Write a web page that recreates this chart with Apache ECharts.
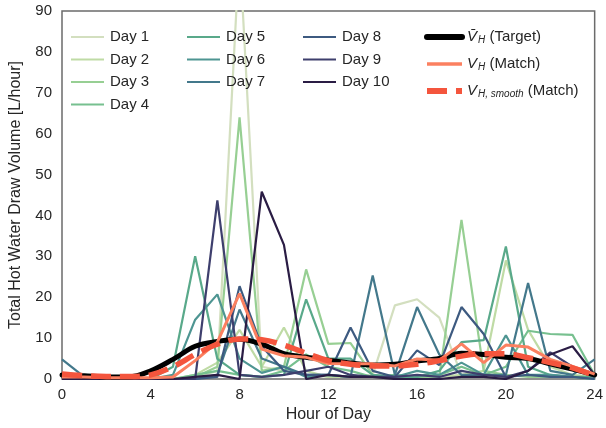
<!DOCTYPE html>
<html><head><meta charset="utf-8">
<script src="https://cdn.jsdelivr.net/npm/echarts@6/dist/echarts.min.js"></script>
<style>html,body{margin:0;padding:0;background:#fff}#c{width:606px;height:428px}</style>
</head><body><div id="c"></div>
<script>
// ---- data ----
const hours = [0,1,2,3,4,5,6,7,8,9,10,11,12,13,14,15,16,17,18,19,20,21,22,23,24];
const xTicks = [0,4,8,12,16,20,24];
const yTicks = [0,10,20,30,40,50,60,70,80,90];
const dayNames = ['Day 1','Day 2','Day 3','Day 4','Day 5','Day 6','Day 7','Day 8','Day 9','Day 10'];
const day1  = [0,0,0,0,0,0,0.5,2,105,3,2,1,0.5,0.5,1,18,19.5,15,1,0.5,0.5,1,0.5,0.5,0];
const day2  = [0.5,0,0,0,0,0,1,4,12,3,12.6,2,0.5,0.5,0.5,0.5,0.5,0.5,1,2,29,12,3,1,0.5];
const day3  = [0,0,0,0,0,0,0.5,3,64,2,3,26.8,8.6,8.8,1,0.5,0.5,0.5,38.9,2,1,0.5,0.5,0.5,0];
const day4  = [0,0,0,0,0,0,1,2,1,0.5,2,6,3,2,0.5,1,0.5,1,3,1,3,11.8,11,10.8,1];
const day5  = [0,0,0,0,0,3,30,4.9,1,0.5,1,19.5,5,5,1,0.5,0.5,2,9,9.5,32.4,3,1,0.5,0.5];
const day6  = [0,0,0,0,0,1,14.5,20.7,5,1.5,3,0.5,1,0.5,0.5,0.5,2,1,4,1,10.7,1,1,0.5,0];
const day7  = [4.8,0.5,0,0,0,0,0,1,17,5,3,1,1,0.5,25.3,1,17.6,6,1,1,1,23.5,2,1,4.8];
const day8  = [0,0,0,0,0,0,0,0.5,22.7,8,2,1,1,12.6,2,0.5,7,3.4,17.6,11,0.5,1,0.5,0.5,0];
const day9  = [0,0,0,0,0,0,0,43.7,1,0.5,1,2,3,1,0.5,0.5,1,0.5,2,1,0.5,2,6.5,3,0.5];
const day10 = [0,0,0,0,0,0,0.5,1,0,45.8,32.8,0,1,0.5,0.5,0,0,0,0.5,0.5,0,2,6,8,1];
const target = [1,0.8,0.5,0.5,2,4.8,8,9.2,9.7,8.5,6.2,5.3,4.6,3.9,3.4,3.6,4.4,5,6.3,6,5.3,5,3.7,2.4,1];
const match  = [0.5,0.5,0.3,0.3,0.3,0.5,4.5,9,20.9,7.3,5.7,5.3,3.8,3.7,3.7,3.2,4.9,4.6,8.6,4,8.3,7.8,4.8,3.1,1.2];
const smooth = [1.2,0.8,0.6,0.6,1,3,6,8.5,9.8,9.6,8.3,6.3,4.5,3.6,3.2,3.2,3.6,4.5,5.6,6.2,6.2,5.2,4,2.7,0.8];

const days = [day1,day2,day3,day4,day5,day6,day7,day8,day9,day10];
const dayColors = ['#d3dfbf','#bfdba5','#97cf93','#77c08f','#59a98a','#4e9592','#43788b','#3d5a80','#3e3f6d','#2a1c44'];

const pts = arr => hours.map((h,i)=>[h,arr[i]]);
const FONT = '"Liberation Sans", Arial, sans-serif';
const TXT = '#262626';

const series = days.map((d,i)=>({
  name: dayNames[i], type:'line', data: pts(d), symbol:'none', showSymbol:false,
  lineStyle:{color:dayColors[i], width:2.2}, itemStyle:{color:dayColors[i], opacity:0},
  emphasis:{disabled:true}, clip:true
}));
series.push({name:'Target', type:'line', data:pts(target), symbol:'none', smooth:0.35,
  lineStyle:{color:'#000', width:5, cap:'round'}, itemStyle:{color:'#000', opacity:0}, emphasis:{disabled:true}});
series.push({name:'Match', type:'line', data:pts(match), symbol:'none',
  lineStyle:{color:'#fb8060', width:3}, itemStyle:{color:'#fb8060', opacity:0}, emphasis:{disabled:true}});
series.push({name:'Smooth', type:'line', data:pts(smooth), symbol:'none', smooth:0.35,
  lineStyle:{color:'#f4553d', width:5.5, type:[20,9]}, itemStyle:{color:'#f4553d', opacity:0}, emphasis:{disabled:true}});

const legendLabels = {
  'Target': '{v|V̄}{s|H} {n|(Target)}',
  'Match': '{v|V}{s|H} {n|(Match)}',
  'Smooth': '{v|V}{s|H, smooth} {n|(Match)}'
};

const dayLegend = (names, left) => ({
  data: names, left: left, top: 24, orient:'vertical', itemWidth:33, itemHeight:14, itemGap:6.5,
  selectedMode:false, itemStyle:{opacity:0},
  textStyle:{fontFamily:FONT, fontSize:15, color:TXT, lineHeight:16, padding:[0,0,0,1]}
});

const option = {
  animation:false,
  backgroundColor:'#fff',
  grid:{left:55, right:7, top:11, bottom:46, show:true, borderColor:'#6b6b6b', borderWidth:1.5, backgroundColor:'#fff'},
  xAxis:{type:'value', min:0, max:24, interval:4,
    name:'Hour of Day', nameLocation:'middle', nameGap:28,
    nameTextStyle:{fontFamily:FONT, fontSize:16, color:TXT},
    axisLine:{show:false}, axisTick:{show:false}, splitLine:{show:false},
    axisLabel:{fontFamily:FONT, fontSize:15, color:TXT, margin:8,
      formatter: v => xTicks.includes(v) ? String(v) : ''}},
  yAxis:{type:'value', min:0, max:90, interval:10,
    name:'Total Hot Water Draw Volume [L/hour]', nameLocation:'middle', nameGap:38,
    nameTextStyle:{fontFamily:FONT, fontSize:16, color:TXT},
    axisLine:{show:false}, axisTick:{show:false}, splitLine:{show:false},
    axisLabel:{fontFamily:FONT, fontSize:15, color:TXT, margin:10,
      formatter: v => yTicks.includes(v) ? String(v) : ''}},
  legend:[
    dayLegend(dayNames.slice(0,4), 65),
    dayLegend(dayNames.slice(4,7), 181),
    dayLegend(dayNames.slice(7,10), 297),
    {data:[
        {name:'Target', lineStyle:{width:6, cap:'round'}},
        {name:'Match', lineStyle:{width:3.5}},
        {name:'Smooth', lineStyle:{width:6}}],
     left:419, top:23, orient:'vertical', itemWidth:35, itemHeight:14, itemGap:9,
     selectedMode:false, itemStyle:{opacity:0},
     formatter: n => legendLabels[n],
     textStyle:{fontFamily:FONT, fontSize:15, color:TXT, lineHeight:18, padding:[0,0,0,0],
       rich:{
         v:{fontFamily:FONT, fontSize:15, fontStyle:'italic', color:TXT},
         s:{fontFamily:FONT, fontSize:10, fontStyle:'italic', color:TXT, padding:[7,0,0,1]},
         n:{fontFamily:FONT, fontSize:15, color:TXT}
       }}}
  ],
  series: series
};
const chart = echarts.init(document.getElementById('c'), null, {renderer:'canvas'});
chart.setOption(option);
</script>
</body></html>
